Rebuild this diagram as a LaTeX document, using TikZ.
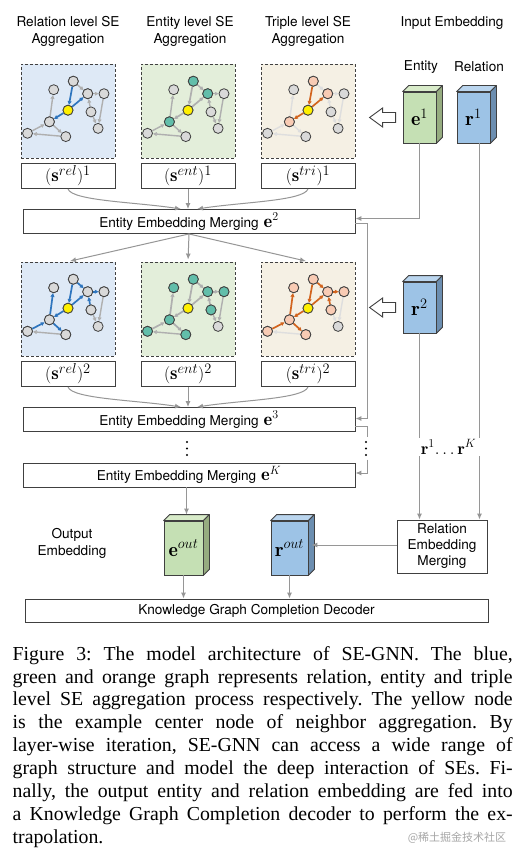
\documentclass[tikz,border=0pt]{standalone}
\usepackage{amsmath,amssymb}
\usepackage{xcolor}
\usepackage{fontspec}
\newfontfamily\helv{TeX Gyre Heros}
\newfontfamily\timesf{Liberation Serif}
\newfontfamily\cjkf{Noto Sans CJK SC}
\usepackage{tikz}
\usetikzlibrary{arrows.meta, calc, backgrounds}

\definecolor{relbg}{RGB}{222,233,246}
\definecolor{entbg}{RGB}{227,238,218}
\definecolor{tribg}{RGB}{245,240,228}
\definecolor{nodegray}{RGB}{217,217,217}
\definecolor{nodeline}{RGB}{64,64,64}
\definecolor{entteal}{RGB}{98,190,170}
\definecolor{tripeach}{RGB}{248,203,180}
\definecolor{relblue}{RGB}{46,117,190}
\definecolor{triorange}{RGB}{210,100,30}
\definecolor{edgegray}{RGB}{175,175,175}
\definecolor{edgelight}{RGB}{222,222,222}
\definecolor{cyellow}{RGB}{255,240,0}
\definecolor{connline}{RGB}{150,150,150}
\definecolor{efront}{RGB}{197,224,180}
\definecolor{etop}{RGB}{216,235,201}
\definecolor{eside}{RGB}{150,172,128}
\definecolor{rfront}{RGB}{157,195,230}
\definecolor{rtop}{RGB}{186,213,238}
\definecolor{rside}{RGB}{108,142,176}

\newcommand{\bigmath}[1]{{\fontsize{18.5}{18.5}\selectfont$#1$}}

\begin{document}
\frenchspacing
\begin{tikzpicture}[x=1pt, y=-1pt,
  lbl/.style={font=\helv\fontsize{13.6}{17}\selectfont, align=center, inner sep=0},
  panel/.style={draw=nodeline, line width=0.9pt, dash pattern=on 3pt off 2pt,
    minimum width=94pt, minimum height=94pt, inner sep=0},
  gnode/.style={circle, draw=nodeline, fill=nodegray, line width=0.8pt,
    minimum size=10pt, inner sep=0},
  gedge/.style={-{Triangle[length=3.8pt, width=3.8pt]}, line width=1.4pt},
  sbox/.style={draw=nodeline, line width=0.9pt, minimum width=94pt,
    minimum height=25pt, inner sep=0, font=\fontsize{19}{19}\selectfont},
  mbox/.style={draw=nodeline, line width=0.9pt, minimum width=332pt,
    minimum height=24pt, inner sep=0, font=\helv\fontsize{13.6}{16}\selectfont},
  cube/.style={draw=nodeline, line width=0.8pt, minimum width=33pt,
    minimum height=51pt, inner sep=0, font=\fontsize{20}{20}\selectfont},
  cubeface/.style={draw=nodeline, line width=0.8pt, line join=round},
  conn/.style={draw=connline, line width=1pt, -{Latex[length=6pt, width=5pt]}},
  gline/.style={draw=connline, line width=1pt},
  holarrow/.style={draw=nodeline, line width=0.9pt, fill=white}]

  \begin{scope}[on background layer]
    \fill[white] (0,0) rectangle (523,861);
  \end{scope}
  \useasboundingbox (0,0) rectangle (523,861);

  % ---- column titles ----
  \node[lbl] (t-rel) at (68,31.5) {Relation level SE\\Aggregation};
  \node[lbl] (t-ent) at (190,31.5) {Entity level SE\\Aggregation};
  \node[lbl] (t-tri) at (308,31.5) {Triple level SE\\Aggregation};
  \node[lbl] (t-in) at (452,23) {Input Embedding};
  \node[lbl] (t-e) at (421,67) {Entity};
  \node[lbl] (t-r) at (479,67) {Relation};

  % ---- SE aggregation panels: two layers x three levels ----
  \foreach \row/\cy/\hotn/\hote/\colde in {
      1/111/{B,C,G}/{B/Y,Y/C,Y/G}/{G/A,B/C,C/D,D/F,E/F,E/C,H/G,I/H,G/I},
      2/309/{A,B,C,D,E,G,H,I}/{B/Y,Y/C,Y/G,G/A,H/G,G/I,C/D,E/C,B/C}/{D/F,E/F,I/H}}
  {
    \foreach \lv/\cx/\bgc/\nfill/\hotc/\coldc in {
        rel/68/relbg/nodegray/relblue/edgegray,
        ent/188/entbg/entteal/edgegray/edgegray,
        tri/308/tribg/tripeach/triorange/edgelight}
    {
      \begin{scope}[shift={(\cx,\cy)}]
        \begin{scope}[on background layer]
          \node[panel, fill=\bgc] (\lv\row) at (0,0) {};
        \end{scope}
        \foreach \n/\x/\y in {A/-14.3/-21.3, B/5.3/-29.8, C/19.7/-17.3,
                              D/36/-17.3, Y/0/-0.8, E/23/0.9, F/30.1/17.4,
                              G/-18.6/10.8, H/-40.5/22.3, I/-2.2/25.6}
          \node[gnode] (\lv\row\n) at (\x,\y) {};
        \foreach \n in \hotn
          \node[gnode, fill=\nfill] at (\lv\row\n) {};
        \node[gnode, fill=cyellow] at (\lv\row Y) {};
        \begin{scope}[on background layer]
          \foreach \a/\b in \hote
            \draw[gedge, draw=\hotc, line width=1.7pt] (\lv\row\a) -- (\lv\row\b);
          \foreach \a/\b in \colde
            \draw[gedge, draw=\coldc] (\lv\row\a) -- (\lv\row\b);
        \end{scope}
        \node[sbox] (s\lv\row) at (0,65) {$(\mathbf{s}^{\lv})^{\row}$};
      \end{scope}
    }
  }

  % ---- embedding cubes ----
  \node[cube, fill=efront] (e1) at (419.5,117.5) {$\mathbf{e}^1$};
  \node[cube, fill=rfront] (r1) at (473.5,117.5) {$\mathbf{r}^1$};
  \node[cube, fill=rfront] (r2) at (419.5,307.5) {$\mathbf{r}^2$};
  \node[cube, fill=efront, minimum width=39pt, minimum height=54pt] (eout)
    at (183.5,548) {$\mathbf{e}^{out}$};
  \node[cube, fill=rfront, minimum width=37pt, minimum height=54pt] (rout)
    at (289.5,548) {$\mathbf{r}^{out}$};
  \foreach \c/\tc/\sc in {e1/etop/eside, r1/rtop/rside, r2/rtop/rside,
                          eout/etop/eside, rout/rtop/rside} {
    \draw[cubeface, fill=\tc] (\c.north west) -- ++(6,-6)
      -- ($(\c.north east)+(6,-6)$) -- (\c.north east) -- cycle;
    \draw[cubeface, fill=\sc] (\c.north east) -- ++(6,-6)
      -- ($(\c.south east)+(6,-6)$) -- (\c.south east) -- cycle;
    \coordinate (\c-t) at ($(\c.north)+(3,-6)$);
    \coordinate (\c-s) at ($(\c.east)+(3,-3)$);
  }

  % ---- hollow input arrows ----
  \draw[holarrow] ([xshift=-7pt]e1.west) -- ++(0,-5) -- ++(-13,0) -- ++(0,-4.5)
    -- ++(-13,9.5) -- ++(13,9.5) -- ++(0,-4.5) -- ++(13,0) -- cycle;
  \draw[holarrow] ([xshift=-7pt]r2.west) -- ++(0,-5) -- ++(-13,0) -- ++(0,-4.5)
    -- ++(-13,9.5) -- ++(13,9.5) -- ++(0,-4.5) -- ++(13,0) -- cycle;

  % ---- merging boxes ----
  \node[mbox] (m2) at (189,221.5) {Entity Embedding Merging\hspace{5pt}\bigmath{\mathbf{e}^2}};
  \node[mbox] (m3) at (189,419.5) {Entity Embedding Merging\hspace{5pt}\bigmath{\mathbf{e}^3}};
  \node[mbox] (mK) at (189,475) {Entity Embedding Merging\hspace{5pt}\bigmath{\mathbf{e}^K}};
  \node[draw=nodeline, line width=0.9pt, minimum width=90pt, minimum height=53pt,
    align=center, inner sep=0, font=\helv\fontsize{13.6}{16}\selectfont] (relm)
    at (442,546.5) {Relation\\Embedding\\Merging};
  \node[lbl] (t-out) at (72,543.5) {Output\\Embedding};
  \node[mbox, minimum width=463pt, minimum height=23pt] (dec) at (256.5,610.5)
    {Knowledge Graph Completion Decoder};

  % ---- SE outputs into merging ----
  \foreach \row/\m in {1/m2, 2/m3} {
    \draw[conn] (srel\row.south) .. controls +(4,12) and +(-45,-7) .. ([xshift=-8pt]\m.north);
    \draw[conn] (sent\row.south) -- (sent\row.south |- \m.north);
    \draw[conn] (stri\row.south) .. controls +(-4,12) and +(45,-7) .. ([xshift=8pt]\m.north);
  }
  \foreach \p in {rel2, ent2, tri2}
    \draw[conn, shorten >=2pt] (m2.south) -- (\p.north);

  % ---- entity side links ----
  \draw[conn] (e1.south) |- ([yshift=3pt]m2.east);
  \draw[conn] ([yshift=-2pt]m2.east) -- ++(12,0) |- ([yshift=1pt]m3.east);
  \draw[gline] ([yshift=-7pt]m3.east) -- ++(12,0) -- ++(0,10);
  \foreach \yy in {442,448.5,455} {
    \fill (366,\yy) circle (1.2pt);
    \fill (187,\yy) circle (1.2pt);
  }
  \draw[conn] ($(m3.east)+(12,40)$) |- ([yshift=2pt]mK.east);
  \draw[conn] (mK.south -| eout-t) -- (eout-t);

  % ---- relation side links ----
  \draw[conn] ([xshift=6pt]r1.south) -- ([xshift=6pt]r1.south |- relm.north);
  \draw[conn] (r2.south) -- (r2.south |- relm.north);
  \node[fill=white, inner xsep=5pt, inner ysep=2pt, anchor=west,
    font=\fontsize{17}{17}\selectfont] (rk) at (416,447)
    {$\mathbf{r}^1\!\ldots\mathbf{r}^K$};
  \draw[conn] (relm.west |- rout-s) -- (rout-s);

  % ---- into decoder ----
  \draw[conn] (eout.south) -- (eout.south |- dec.north);
  \draw[conn] (rout.south) -- (rout.south |- dec.north);

  % ---- caption ----
  \node[anchor=north west, align=left, inner sep=0,
    font=\timesf\fontsize{19.8}{22.9}\selectfont] (cap) at (12.5,646) {%
    \makebox[500pt][s]{Figure 3: The model architecture of SE-GNN. The blue,}\\
    \makebox[500pt][s]{green and orange graph represents relation, entity and triple}\\
    \makebox[500pt][s]{level SE aggregation process respectively. The yellow node}\\
    \makebox[500pt][s]{is the example center node of neighbor aggregation. By}\\
    \makebox[500pt][s]{layer-wise iteration, SE-GNN can access a wide range of}\\
    \makebox[500pt][s]{graph structure and model the deep interaction of SEs. Fi-}\\
    \makebox[500pt][s]{nally, the output entity and relation embedding are fed into}\\
    \makebox[500pt][s]{a Knowledge Graph Completion decoder to perform the ex-}\\
    trapolation.};
  \node[font=\cjkf\fontsize{11}{11}\selectfont, text=black!35] (wm) at (457,838)
    {@稀土掘金技术社区};
\end{tikzpicture}
\end{document}
